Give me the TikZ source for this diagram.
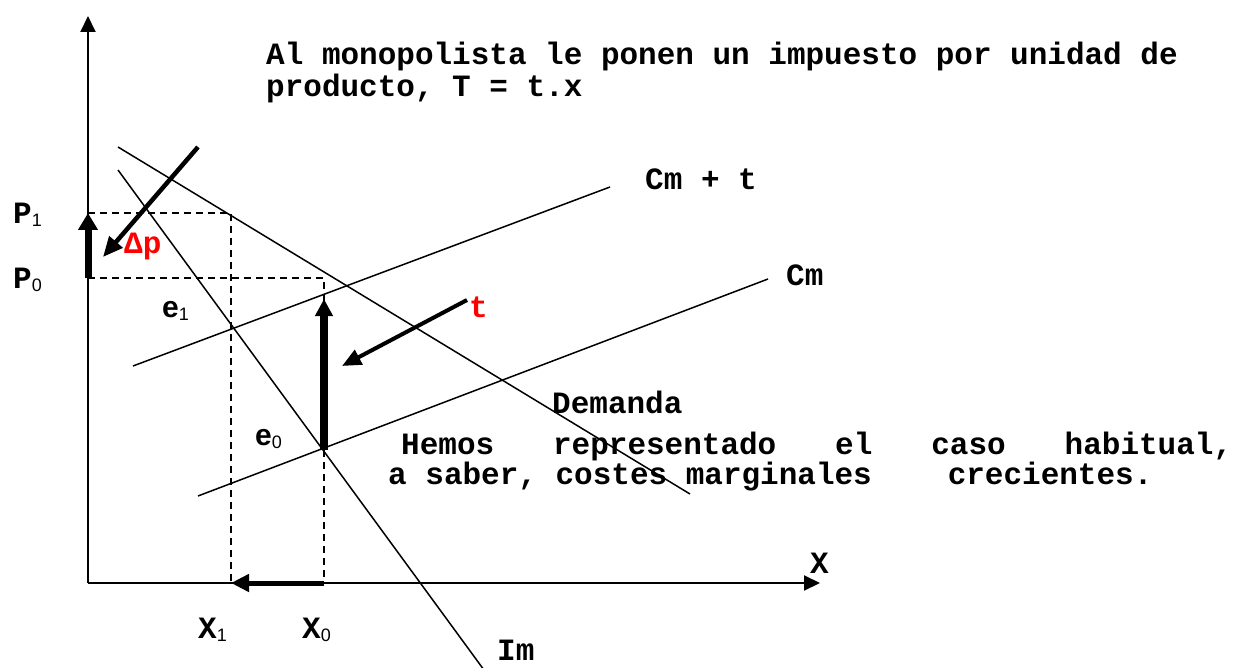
\documentclass[tikz,border=0pt]{standalone}
\usepackage{fontspec}
\setmainfont{Liberation Mono}
\newfontfamily\sansfam{Liberation Sans}
\usetikzlibrary{arrows.meta}
\definecolor{TaxRed}{RGB}{255,0,0}
\newcommand{\lowsub}[1]{\raisebox{-3pt}{\sansfam\mdseries\fontsize{18}{18}\selectfont #1}}
\tikzset{
  curve/.style={draw=black,line width=1.5pt},
  axis/.style={draw=black,line width=2pt,-{Triangle[width=15pt,length=16pt]}},
  guide/.style={draw=black,line width=2pt,dash pattern=on 7pt off 5pt},
  shiftarrow/.style={draw=black,line width=7pt,-{Triangle[width=19pt,length=17pt]}},
  pointer/.style={draw=black,line width=4.5pt,-{Triangle[width=17pt,length=20pt]}},
  lbl/.style={inner sep=0pt,anchor=base west,font=\fontsize{31}{32}\selectfont\bfseries},
  elbl/.style={lbl,font=\sansfam\fontsize{30}{31}\selectfont\bfseries},
}

\begin{document}
\begin{tikzpicture}[x=1pt,y=-1pt]
        \path[fill=white,use as bounding box] (0,0) rectangle (1238,668);
        % axes
        \coordinate (O) at (88,583);
        \coordinate (ytop) at (88,16);
        \coordinate (xtop) at (820,583);
        \draw[axis] (O) -- (ytop);
        \draw[axis] (O) -- (xtop);
        % curves
        \coordinate (dem1) at (118,147);
        \coordinate (dem2) at (690,494);
        \coordinate (im1) at (118,170);
        \coordinate (im2) at (484,670);
        \coordinate (cmt1) at (133,366);
        \coordinate (cmt2) at (610,187);
        \coordinate (cm1) at (198,496);
        \coordinate (cm2) at (768,279);
        \foreach \a/\b in {dem1/dem2,im1/im2,cmt1/cmt2,cm1/cm2}
          \draw[curve] (\a) -- (\b);
        % equilibria and guides
        \coordinate (e0) at (324,450);
        \coordinate (p0) at (88,278);
        \coordinate (p1) at (88,213);
        \coordinate (q0) at (324,583);
        \coordinate (q1) at (231,583);
        \coordinate (c0) at (324,278);
        \coordinate (c1) at (231,213);
        \draw[guide] (p1) -- (c1) -- (q1);
        \draw[guide] (p0) -- (c0) -- (q0);
        % shifts
        \draw[shiftarrow] (p0) -- (p1);
        \draw[shiftarrow,line width=5pt,-{Triangle[width=17pt,length=18pt]}] (q0) -- (q1);
        \coordinate (ttop) at (324,299);
        \draw[shiftarrow,line width=8pt,-{Triangle[width=17pt,length=17pt]}] (e0) -- (ttop);
        \coordinate (dp1) at (198,147);
        \coordinate (dp2) at (103,257);
        \draw[pointer] (dp1) -- (dp2);
        \coordinate (tp1) at (467,300);
        \coordinate (tp2) at (342,366);
        \draw[pointer,line width=4pt,-{Triangle[width=16pt,length=19pt]}] (tp1) -- (tp2);
        % labels
        \node[lbl] (title1) at (266,65) {Al monopolista le ponen un impuesto por unidad de};
        \node[lbl] (title2) at (266,97) {producto, T = t.x};
        \node[lbl] (cmtlab) at (645,190) {Cm + t};
        \node[lbl] (cmlab) at (786,285) {Cm};
        \node[lbl] (demlab) at (552,413) {Demanda};
        \node[lbl] (imlab) at (497,660) {Im};
        \node[lbl] (xlab) at (810,573) {X};
        \node[lbl] (x1lab) at (198,638) {X\lowsub{1}};
        \node[lbl] (x0lab) at (302,638) {X\lowsub{0}};
        \node[lbl] (p1lab) at (13,224) {P\lowsub{1}};
        \node[lbl] (p0lab) at (13,288) {P\lowsub{0}};
        \node[lbl,text=TaxRed] (dplab) at (124,254) {Δp};
        \node[lbl,text=TaxRed] (tlab) at (469,317) {t};
        \node[elbl] (e1lab) at (162,317) {e\lowsub{1}};
        \node[elbl] (e0lab) at (255,445) {e\lowsub{0}};
        \node[lbl] (note1) at (401,454) {\makebox[831pt][l]{Hemos\hfill representado\hfill el\hfill caso\hfill habitual,}};
        \node[lbl] (note2) at (388,484) {a saber, costes marginales\hspace{76pt}crecientes.};
      \end{tikzpicture}
\end{document}
